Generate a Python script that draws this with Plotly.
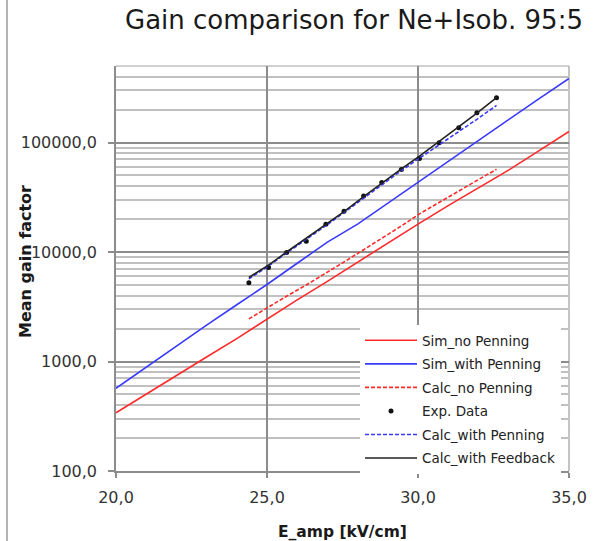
import plotly.graph_objects as go

# Simulation curves (Garfield-style), 1 kV/cm steps
e_sim = [20, 21, 22, 23, 24, 25, 26, 27, 28, 29, 30, 31, 32, 33, 34, 35]
sim_no_penning = [340, 500, 740, 1100, 1620, 2450, 3650, 5400, 8100, 12200,
                  18000, 26500, 38500, 56000, 84000, 126000]
sim_with_penning = [570, 890, 1380, 2150, 3300, 5050, 7900, 12300, 18000, 28000,
                    43500, 67000, 105000, 162000, 250000, 385000]

# Field values of the measurement points and the calculated curves
e_calc = [24.4, 25.05, 25.65, 26.3, 26.95, 27.55, 28.2, 28.8, 29.45, 30.05,
          30.7, 31.35, 31.95, 32.6]
calc_no_penning = [2450, 3150, 3950, 5000, 6400, 8100, 10500, 13300, 17300,
                   22300, 28500, 36000, 45000, 57000]
calc_with_penning = [5700, 7450, 9800, 13000, 17400, 22900, 31200, 41500,
                     55500, 72000, 95000, 125000, 163000, 218000]
calc_with_feedback = [5850, 7600, 10000, 13300, 17800, 23400, 32000, 42700,
                      57500, 75000, 102000, 138000, 186000, 257000]
exp_data = [5250, 7230, 9890, 12570, 17900, 23600, 32500, 43100, 56600,
            71300, 99800, 136700, 187500, 257000]

x_ticks = [20, 25, 30, 35]
y_major = [100, 1000, 10000, 100000]
y_minor = [m * d for d in (100, 1000, 10000) for m in range(2, 10)] + \
          [200000, 300000, 400000]

FONT = "DejaVu Sans"
RED = "#ff2a2a"
BLUE = "#3a3aff"

fig = go.Figure()
fig.add_trace(go.Scatter(x=e_sim, y=sim_no_penning, mode="lines",
                         name="Sim_no Penning", legendgroup="a",
                         line=dict(color=RED, width=1.6)))
fig.add_trace(go.Scatter(x=e_sim, y=sim_with_penning, mode="lines",
                         name="Sim_with Penning", legendgroup="b",
                         line=dict(color=BLUE, width=1.6)))
fig.add_trace(go.Scatter(x=e_calc, y=calc_no_penning, mode="lines",
                         name="Calc_no Penning", legendgroup="c",
                         line=dict(color=RED, width=1.6, dash="4px,2px")))
fig.add_trace(go.Scatter(x=e_calc, y=exp_data, mode="markers",
                         name="Exp. Data", legendgroup="d",
                         marker=dict(color="#111111", size=5, symbol="circle")))
fig.add_trace(go.Scatter(x=e_calc, y=calc_with_penning, mode="lines",
                         name="Calc_with Penning", legendgroup="e",
                         line=dict(color=BLUE, width=1.6, dash="4px,2px")))
fig.add_trace(go.Scatter(x=e_calc, y=calc_with_feedback, mode="lines",
                         name="Calc_with Feedback", legendgroup="f",
                         line=dict(color="#222222", width=1.6)))

fig.update_layout(
    width=593, height=541,
    margin=dict(l=116, r=24, t=66, b=70, pad=0, autoexpand=False),
    paper_bgcolor="white", plot_bgcolor="white",
    separators=", ",
    font=dict(family=FONT, color="#333333", size=16),
    title=dict(text="Gain comparison for Ne+Isob. 95:5",
               font=dict(family=FONT, size=26, color="#1a1a1a"),
               x=354 / 593, xanchor="center", y=1 - 20 / 541, yanchor="middle"),
    showlegend=True,
    legend=dict(x=(360 - 116) / 453, y=(471 - 325) / 405,
                xanchor="left", yanchor="top",
                bgcolor="white", borderwidth=0,
                font=dict(family=FONT, size=13.5, color="#222222"),
                itemwidth=52, tracegroupgap=3,
                traceorder="grouped"),
)

fig.update_xaxes(
    range=[20, 35], tickvals=x_ticks, tickformat=".1f",
    showgrid=True, gridcolor="#8c8c8c", gridwidth=1.5,
    showline=True, linecolor="#8c8c8c", linewidth=1.5, mirror=False,
    ticks="outside", ticklen=5, tickcolor="#8c8c8c", tickwidth=1.5,
    ticklabelstandoff=6, automargin=False,
    tickfont=dict(family=FONT, size=16, color="#333333"),
    zeroline=False,
)
fig.update_yaxes(
    type="log", range=[2, 5.69897],
    tickvals=y_major, tickformat=".1f",
    showgrid=True, gridcolor="#8c8c8c", gridwidth=1.5,
    showline=True, linecolor="#8c8c8c", linewidth=1.5,
    ticks="outside", ticklen=6, tickcolor="#8c8c8c", tickwidth=1.5,
    ticklabelstandoff=8, automargin=False,
    tickfont=dict(family=FONT, size=16, color="#333333"),
    minor=dict(tickvals=y_minor, showgrid=True, gridcolor="#c0c0c0",
               gridwidth=1.5, ticks=""),
    zeroline=False,
)

# top and right frame lines of the plot area
fig.add_shape(type="line", xref="paper", yref="paper", x0=0, x1=1, y0=1, y1=1,
              line=dict(color="#c0c0c0", width=1.5), layer="below")
fig.add_shape(type="line", xref="paper", yref="paper", x0=1, x1=1, y0=0, y1=1,
              line=dict(color="#b0b0b0", width=1.5), layer="below")
# page border line at the far left
fig.add_shape(type="line", xref="paper", yref="paper",
              x0=(7 - 116) / 453, x1=(7 - 116) / 453, y0=-0.18, y1=1.17,
              line=dict(color="#9a9a9a", width=1.5))

fig.add_annotation(text="<b>E_amp [kV/cm]</b>", xref="paper", yref="paper",
                   x=0.5, y=(471 - 532) / 405, xanchor="center", yanchor="middle",
                   showarrow=False, font=dict(family=FONT, size=15.5, color="#1a1a1a"))
fig.add_annotation(text="<b>Mean gain factor</b>", xref="paper", yref="paper",
                   x=(25 - 116) / 453, y=(471 - 262) / 405, textangle=-90,
                   xanchor="center", yanchor="middle",
                   showarrow=False, font=dict(family=FONT, size=16, color="#1a1a1a"))

fig.write_html("out.html")
